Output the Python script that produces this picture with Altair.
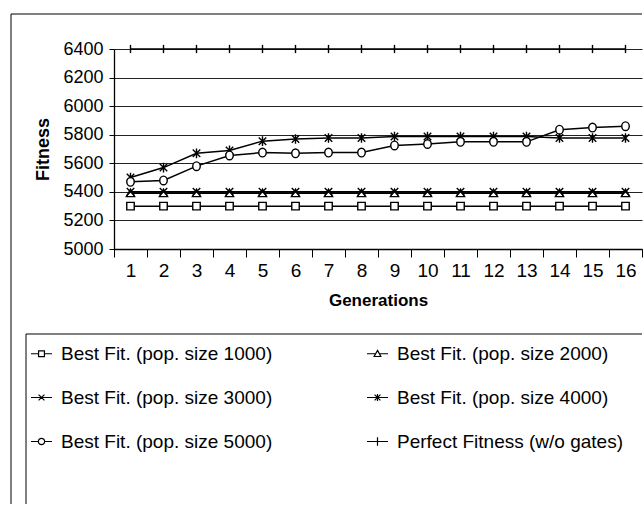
import altair as alt
import pandas as pd

generations = [1, 2, 3, 4, 5, 6, 7, 8, 9, 10, 11, 12, 13, 14, 15, 16]
series_names = [
    "Best Fit. (pop. size 1000)",
    "Best Fit. (pop. size 2000)",
    "Best Fit. (pop. size 3000)",
    "Best Fit. (pop. size 4000)",
    "Best Fit. (pop. size 5000)",
    "Perfect Fitness (w/o gates)",
]
pop1000 = [5300, 5300, 5300, 5300, 5300, 5300, 5300, 5300, 5300, 5300, 5300, 5300, 5300, 5300, 5300, 5300]
pop2000 = [5390, 5390, 5390, 5390, 5390, 5390, 5390, 5390, 5390, 5390, 5390, 5390, 5390, 5390, 5390, 5390]
pop3000 = [5400, 5400, 5400, 5400, 5400, 5400, 5400, 5400, 5400, 5400, 5400, 5400, 5400, 5400, 5400, 5400]
pop4000 = [5500, 5570, 5670, 5690, 5755, 5770, 5777, 5777, 5787, 5787, 5787, 5787, 5787, 5777, 5777, 5777]
pop5000 = [5470, 5480, 5580, 5655, 5675, 5670, 5675, 5675, 5725, 5735, 5750, 5750, 5750, 5835, 5850, 5860]
perfect = [6400, 6400, 6400, 6400, 6400, 6400, 6400, 6400, 6400, 6400, 6400, 6400, 6400, 6400, 6400, 6400]
y_ticks = [5000, 5200, 5400, 5600, 5800, 6000, 6200, 6400]

all_values = [pop1000, pop2000, pop3000, pop4000, pop5000, perfect]
rows = []
for name, vals in zip(series_names, all_values):
    for g, v in zip(generations, vals):
        rows.append({"gen": g, "fitness": v, "series": name})
df = pd.DataFrame(rows)

FONT = "Liberation Sans"
W, H = 528, 200

marker_paths = [
    "M-1,-1H1V1H-1Z",
    "M0,-1.1L1.1,0.9H-1.1Z",
    "M-1,-1L1,1M-1,1L1,-1",
    "M-1,-1L1,1M-1,1L1,-1M0,-1.3V1.3",
    "M-1,0A1,1.15 0 1,0 1,0A1,1.15 0 1,0 -1,0Z",
    "M0,-1.1V1.1",
]
legend_paths = [
    "M-1,0H-0.28M0.28,0H1M-0.28,-0.28H0.28V0.28H-0.28Z",
    "M-1,0H-0.18M0.18,0H1M0,-0.32L0.32,0.26H-0.32Z",
    "M-1,0H1M-0.28,-0.28L0.28,0.28M-0.28,0.28L0.28,-0.28",
    "M-1,0H1M-0.28,-0.28L0.28,0.28M-0.28,0.28L0.28,-0.28M0,-0.34V0.34",
    "M-1,0H-0.3M0.3,0H1M-0.3,0A0.3,0.3 0 1,0 0.3,0A0.3,0.3 0 1,0 -0.3,0Z",
    "M-1,0H1M0,-0.4V0.4",
]

x_enc = alt.X(
    "gen:O",
    scale=alt.Scale(type="band", paddingInner=0, paddingOuter=0),
    axis=alt.Axis(
        labelAngle=0, tickBand="extent", tickSize=8, labelPadding=4,
        labelFontSize=19, titleFontSize=17, titleFontWeight="bold",
        titlePadding=12, grid=False,
    ),
    title="Generations",
)
y_enc = alt.Y(
    "fitness:Q",
    scale=alt.Scale(domain=[5000, 6400], nice=False, zero=False),
    axis=alt.Axis(
        values=y_ticks, tickSize=5, labelPadding=6, labelFontSize=18,
        titleFontSize=18, titleFontWeight="bold", titlePadding=10,
        grid=True, gridColor="#222", gridWidth=1.1, format="d",
    ),
    title="Fitness",
)

base = alt.Chart(df)

lines = base.mark_line(color="black", strokeWidth=1.5).encode(
    x=x_enc, y=y_enc, detail="series:N"
)
points = base.mark_point(
    filled=True, fill="white", stroke="black", strokeWidth=1.4, size=56, opacity=1
).encode(
    x=x_enc, y=y_enc,
    shape=alt.Shape("series:N", scale=alt.Scale(domain=series_names, range=marker_paths), legend=None),
)
legend_layer = base.transform_filter("datum.fitness < 0").mark_point(
    filled=False, color="black", strokeWidth=1.2, opacity=1
).encode(
    x=x_enc, y=y_enc,
    shape=alt.Shape(
        "series:N",
        scale=alt.Scale(domain=series_names, range=legend_paths),
        legend=alt.Legend(
            title=None, orient="none", legendX=-84, legendY=293, columns=2,
            direction="horizontal",
            labelFont=FONT, labelFontSize=19, labelColor="black", labelLimit=400,
            symbolSize=441, symbolStrokeWidth=1.2, symbolStrokeColor="black",
            symbolFillColor="white", symbolOpacity=1,
            rowPadding=22, columnPadding=91, labelOffset=8, padding=0,
        ),
    ),
)

one = pd.DataFrame({"k": [0]})
frame_left = alt.Chart(one).mark_rule(color="black", strokeWidth=1).encode(
    x=alt.value(-103), y=alt.value(-35), y2=alt.value(455)
)
frame_top = alt.Chart(one).mark_rule(color="black", strokeWidth=1).encode(
    x=alt.value(-103), x2=alt.value(W), y=alt.value(-35)
)
leg_left = alt.Chart(one).mark_rule(color="black", strokeWidth=1).encode(
    x=alt.value(-88), y=alt.value(285), y2=alt.value(455)
)
leg_top = alt.Chart(one).mark_rule(color="black", strokeWidth=1).encode(
    x=alt.value(-88), x2=alt.value(W), y=alt.value(285)
)

chart = (
    alt.layer(lines, points, legend_layer, frame_left, frame_top, leg_left, leg_top)
    .resolve_scale(shape="independent")
    .properties(width=W, height=H, padding={"left": 10, "top": 13, "right": 0, "bottom": 0},
                background="white")
    .configure_axis(
        labelFont=FONT, titleFont=FONT, labelColor="black", titleColor="black",
        domainColor="black", tickColor="black", domainWidth=1.3,
    )
    .configure_view(stroke=None)
)

chart.save("out.html", embed_options={"renderer": "svg", "actions": False})
